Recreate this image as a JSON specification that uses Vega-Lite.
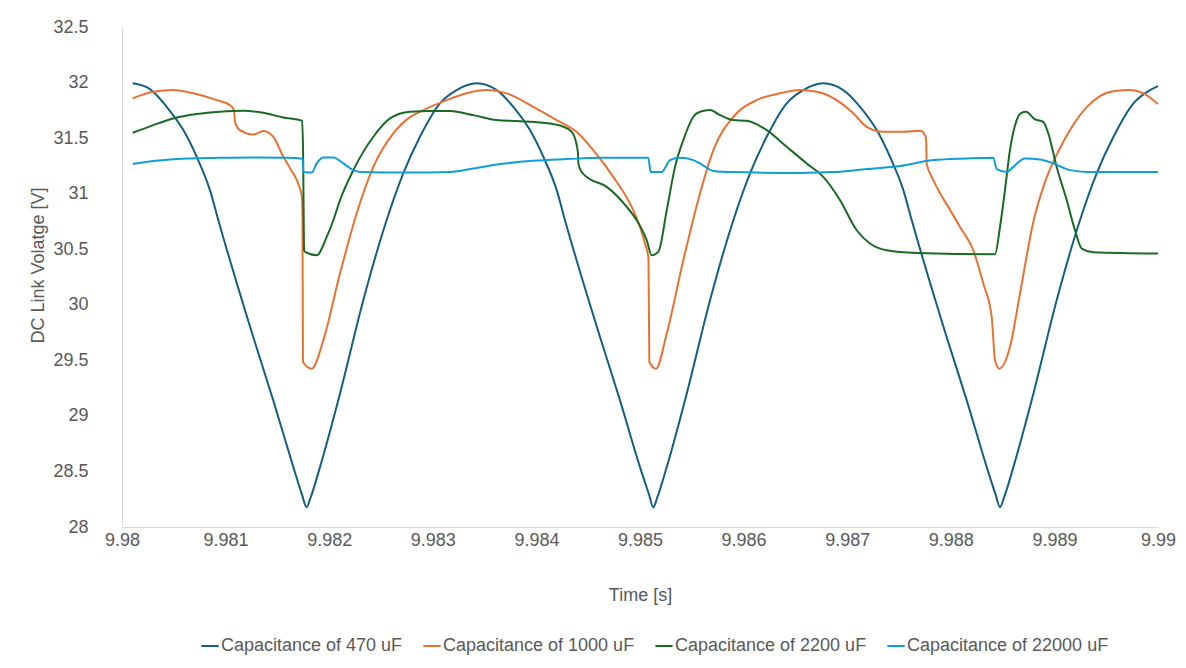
{
"$schema": "https://vega.github.io/schema/vega-lite/v6.json",
"width": 1036, "height": 500,
"autosize": {"type": "none"},
"padding": {"left": 122, "top": 27, "right": 28, "bottom": 141},
"background": "white",
"config": {"view": {"stroke": null}, "font": "Liberation Sans"},
"datasets": {
"c470": [
{"t":9.980103,"v":31.993},{"t":9.980270,"v":31.941},{"t":9.980431,"v":31.782},{"t":9.980592,"v":31.572},{"t":9.980721,"v":31.332},{"t":9.980849,"v":31.032},{"t":9.980930,"v":30.761},{"t":9.981267,"v":29.710},{"t":9.981460,"v":29.140},{"t":9.981654,"v":28.539},{"t":9.981737,"v":28.293},{"t":9.981782,"v":28.178},{"t":9.981821,"v":28.266},{"t":9.981911,"v":28.539},{"t":9.982104,"v":29.200},{"t":9.982329,"v":30.041},{"t":9.982554,"v":30.761},{"t":9.982715,"v":31.182},{"t":9.982876,"v":31.512},{"t":9.983069,"v":31.813},{"t":9.983230,"v":31.932},{"t":9.983423,"v":31.993},
{"t":9.983617,"v":31.932},{"t":9.983777,"v":31.782},{"t":9.983938,"v":31.572},{"t":9.984067,"v":31.332},{"t":9.984196,"v":31.032},{"t":9.984276,"v":30.761},{"t":9.984614,"v":29.710},{"t":9.984807,"v":29.140},{"t":9.985000,"v":28.539},{"t":9.985087,"v":28.293},{"t":9.985128,"v":28.178},{"t":9.985167,"v":28.266},{"t":9.985258,"v":28.539},{"t":9.985451,"v":29.200},{"t":9.985676,"v":30.041},{"t":9.985901,"v":30.761},{"t":9.986062,"v":31.182},{"t":9.986223,"v":31.512},{"t":9.986416,"v":31.813},{"t":9.986576,"v":31.932},{"t":9.986769,"v":31.993},
{"t":9.986962,"v":31.932},{"t":9.987124,"v":31.782},{"t":9.987285,"v":31.572},{"t":9.987413,"v":31.332},{"t":9.987542,"v":31.032},{"t":9.987623,"v":30.761},{"t":9.987960,"v":29.710},{"t":9.988154,"v":29.140},{"t":9.988347,"v":28.539},{"t":9.988432,"v":28.293},{"t":9.988475,"v":28.178},{"t":9.988514,"v":28.266},{"t":9.988604,"v":28.539},{"t":9.988797,"v":29.200},{"t":9.989022,"v":30.041},{"t":9.989247,"v":30.761},{"t":9.989408,"v":31.182},{"t":9.989570,"v":31.512},{"t":9.989763,"v":31.813},{"t":9.989923,"v":31.932},{"t":9.990000,"v":31.968}
],
"c1000": [
{"t":9.980103,"v":31.858},{"t":9.980302,"v":31.917},{"t":9.980495,"v":31.932},{"t":9.980688,"v":31.903},{"t":9.980914,"v":31.842},{"t":9.981042,"v":31.797},{"t":9.981081,"v":31.752},{"t":9.981091,"v":31.644},{"t":9.981139,"v":31.572},{"t":9.981267,"v":31.533},{"t":9.981364,"v":31.563},{"t":9.981460,"v":31.512},{"t":9.981557,"v":31.332},{"t":9.981622,"v":31.230},{"t":9.981735,"v":30.987},{"t":9.981742,"v":30.806},{"t":9.981747,"v":29.485},{"t":9.981831,"v":29.425},{"t":9.981943,"v":29.680},{"t":9.982104,"v":30.281},{"t":9.982265,"v":30.822},{"t":9.982426,"v":31.241},{"t":9.982619,"v":31.542},{"t":9.982780,"v":31.689},{"t":9.982876,"v":31.737},{"t":9.983134,"v":31.842},{"t":9.983327,"v":31.903},{"t":9.983520,"v":31.932},{"t":9.983713,"v":31.903},{"t":9.983970,"v":31.782},{"t":9.984196,"v":31.662},{"t":9.984405,"v":31.542},{"t":9.984549,"v":31.392},{"t":9.984742,"v":31.151},{"t":9.984935,"v":30.851},{"t":9.985000,"v":30.701},{"t":9.985048,"v":30.554},{"t":9.985082,"v":30.419},{"t":9.985090,"v":29.485},{"t":9.985154,"v":29.425},{"t":9.985258,"v":29.741},{"t":9.985418,"v":30.401},{"t":9.985579,"v":31.002},{"t":9.985708,"v":31.392},{"t":9.985901,"v":31.692},{"t":9.986126,"v":31.842},{"t":9.986351,"v":31.903},{"t":9.986544,"v":31.932},{"t":9.986706,"v":31.917},{"t":9.986899,"v":31.842},{"t":9.987059,"v":31.723},{"t":9.987188,"v":31.602},{"t":9.987349,"v":31.557},{"t":9.987542,"v":31.557},{"t":9.987703,"v":31.566},{"t":9.987756,"v":31.518},{"t":9.987764,"v":31.437},{"t":9.987766,"v":31.275},{"t":9.987831,"v":31.122},{"t":9.987896,"v":31.005},{"t":9.987960,"v":30.905},{"t":9.988089,"v":30.701},{"t":9.988217,"v":30.491},{"t":9.988314,"v":30.191},{"t":9.988395,"v":29.890},{"t":9.988427,"v":29.500},{"t":9.988468,"v":29.425},{"t":9.988571,"v":29.620},{"t":9.988668,"v":30.101},{"t":9.988796,"v":30.743},{"t":9.988909,"v":31.104},{"t":9.989054,"v":31.410},{"t":9.989180,"v":31.617},{"t":9.989312,"v":31.779},{"t":9.989440,"v":31.878},{"t":9.989585,"v":31.923},{"t":9.989730,"v":31.932},{"t":9.989855,"v":31.905},{"t":9.990000,"v":31.806}
],
"c2200": [
{"t":9.980103,"v":31.548},{"t":9.980302,"v":31.617},{"t":9.980495,"v":31.677},{"t":9.980721,"v":31.716},{"t":9.980946,"v":31.737},{"t":9.981171,"v":31.746},{"t":9.981364,"v":31.728},{"t":9.981557,"v":31.686},{"t":9.981739,"v":31.656},{"t":9.981749,"v":31.302},{"t":9.981757,"v":30.491},{"t":9.981771,"v":30.473},{"t":9.981879,"v":30.446},{"t":9.981976,"v":30.611},{"t":9.982040,"v":30.761},{"t":9.982104,"v":30.941},{"t":9.982233,"v":31.212},{"t":9.982426,"v":31.512},{"t":9.982587,"v":31.677},{"t":9.982780,"v":31.737},{"t":9.982973,"v":31.743},{"t":9.983166,"v":31.743},{"t":9.983391,"v":31.707},{"t":9.983617,"v":31.662},{"t":9.983810,"v":31.653},{"t":9.984067,"v":31.638},{"t":9.984260,"v":31.602},{"t":9.984344,"v":31.554},{"t":9.984377,"v":31.482},{"t":9.984400,"v":31.374},{"t":9.984406,"v":31.266},{"t":9.984435,"v":31.198},{"t":9.984486,"v":31.151},{"t":9.984679,"v":31.061},{"t":9.984872,"v":30.881},{"t":9.984968,"v":30.761},{"t":9.985065,"v":30.581},{"t":9.985113,"v":30.446},{"t":9.985177,"v":30.476},{"t":9.985258,"v":30.851},{"t":9.985338,"v":31.241},{"t":9.985418,"v":31.482},{"t":9.985515,"v":31.692},{"t":9.985579,"v":31.737},{"t":9.985676,"v":31.752},{"t":9.985772,"v":31.707},{"t":9.985901,"v":31.662},{"t":9.986030,"v":31.656},{"t":9.986223,"v":31.572},{"t":9.986416,"v":31.422},{"t":9.986609,"v":31.272},{"t":9.986769,"v":31.151},{"t":9.986931,"v":30.941},{"t":9.987092,"v":30.671},{"t":9.987220,"v":30.551},{"t":9.987381,"v":30.491},{"t":9.987671,"v":30.467},{"t":9.988427,"v":30.455},{"t":9.988475,"v":30.701},{"t":9.988523,"v":31.032},{"t":9.988571,"v":31.392},{"t":9.988636,"v":31.662},{"t":9.988678,"v":31.725},{"t":9.988726,"v":31.737},{"t":9.988813,"v":31.668},{"t":9.988893,"v":31.647},{"t":9.988941,"v":31.542},{"t":9.989022,"v":31.241},{"t":9.989119,"v":30.941},{"t":9.989199,"v":30.671},{"t":9.989264,"v":30.506},{"t":9.989376,"v":30.473},{"t":9.990000,"v":30.461}
],
"c22000": [
{"t":9.980103,"v":31.266},{"t":9.980302,"v":31.293},{"t":9.980625,"v":31.317},{"t":9.980946,"v":31.323},{"t":9.981267,"v":31.326},{"t":9.981590,"v":31.323},{"t":9.981743,"v":31.314},{"t":9.981750,"v":31.196},{"t":9.981831,"v":31.191},{"t":9.981879,"v":31.272},{"t":9.981943,"v":31.326},{"t":9.982040,"v":31.326},{"t":9.982136,"v":31.272},{"t":9.982233,"v":31.212},{"t":9.982297,"v":31.196},{"t":9.982748,"v":31.191},{"t":9.983166,"v":31.196},{"t":9.983391,"v":31.227},{"t":9.983649,"v":31.266},{"t":9.983970,"v":31.296},{"t":9.984293,"v":31.311},{"t":9.984614,"v":31.323},{"t":9.985080,"v":31.323},{"t":9.985103,"v":31.196},{"t":9.985209,"v":31.196},{"t":9.985290,"v":31.302},{"t":9.985386,"v":31.323},{"t":9.985515,"v":31.302},{"t":9.985579,"v":31.272},{"t":9.985708,"v":31.205},{"t":9.985901,"v":31.194},{"t":9.986544,"v":31.187},{"t":9.986866,"v":31.194},{"t":9.987188,"v":31.221},{"t":9.987510,"v":31.248},{"t":9.987831,"v":31.302},{"t":9.988154,"v":31.317},{"t":9.988410,"v":31.324},{"t":9.988443,"v":31.221},{"t":9.988540,"v":31.196},{"t":9.988603,"v":31.241},{"t":9.988716,"v":31.317},{"t":9.988861,"v":31.308},{"t":9.988989,"v":31.272},{"t":9.989151,"v":31.212},{"t":9.989312,"v":31.196},{"t":9.990000,"v":31.196}
]
},
"layer": [
{"data": {"name": "c470"}, "transform": [{"calculate": "'Capacitance of 470 uF'", "as": "series"}], "mark": {"type": "line", "interpolate": "monotone", "strokeWidth": 2}},
{"data": {"name": "c1000"}, "transform": [{"calculate": "'Capacitance of 1000 uF'", "as": "series"}], "mark": {"type": "line", "interpolate": "monotone", "strokeWidth": 2}},
{"data": {"name": "c2200"}, "transform": [{"calculate": "'Capacitance of 2200 uF'", "as": "series"}], "mark": {"type": "line", "interpolate": "monotone", "strokeWidth": 2}},
{"data": {"name": "c22000"}, "transform": [{"calculate": "'Capacitance of 22000 uF'", "as": "series"}], "mark": {"type": "line", "interpolate": "monotone", "strokeWidth": 2}}
],
"encoding": {
"x": {"field": "t", "type": "quantitative", "scale": {"domain": [9.98, 9.99], "nice": false, "zero": false},
 "axis": {"values": [9.98, 9.981, 9.982, 9.983, 9.984, 9.985, 9.986, 9.987, 9.988, 9.989, 9.99], "format": ".3~f", "grid": false, "ticks": false, "labelFlush": false, "labelFontSize": 18, "labelColor": "#595959", "labelPadding": 4, "domainColor": "#D9D9D9", "title": "Time [s]", "titleFontSize": 18, "titleFontWeight": "normal", "titleColor": "#595959", "titleY": 68, "titleBaseline": "middle"}},
"y": {"field": "v", "type": "quantitative", "scale": {"domain": [28, 32.5], "nice": false, "zero": false},
 "axis": {"values": [28, 28.5, 29, 29.5, 30, 30.5, 31, 31.5, 32, 32.5], "format": ".1~f", "grid": false, "ticks": false, "labelFontSize": 18, "labelColor": "#595959", "labelPadding": 34, "domainColor": "#D9D9D9", "title": "DC Link Volatge [V]", "titleFontSize": 18, "titleFontWeight": "normal", "titleColor": "#595959", "titleX": -84, "titleY": 238, "titleBaseline": "middle"}},
"color": {"field": "series", "type": "nominal",
 "scale": {"domain": ["Capacitance of 470 uF", "Capacitance of 1000 uF", "Capacitance of 2200 uF", "Capacitance of 22000 uF"], "range": ["#156082", "#E97132", "#196B24", "#0F9ED5"]},
 "legend": {"orient": "none", "legendX": 78, "legendY": 609, "direction": "horizontal", "columns": 4, "title": null, "symbolType": "stroke", "symbolSize": 300, "symbolStrokeWidth": 2, "labelFontSize": 18, "labelColor": "#595959", "labelOffset": 1, "columnPadding": 16, "labelLimit": 400}}
}
}
